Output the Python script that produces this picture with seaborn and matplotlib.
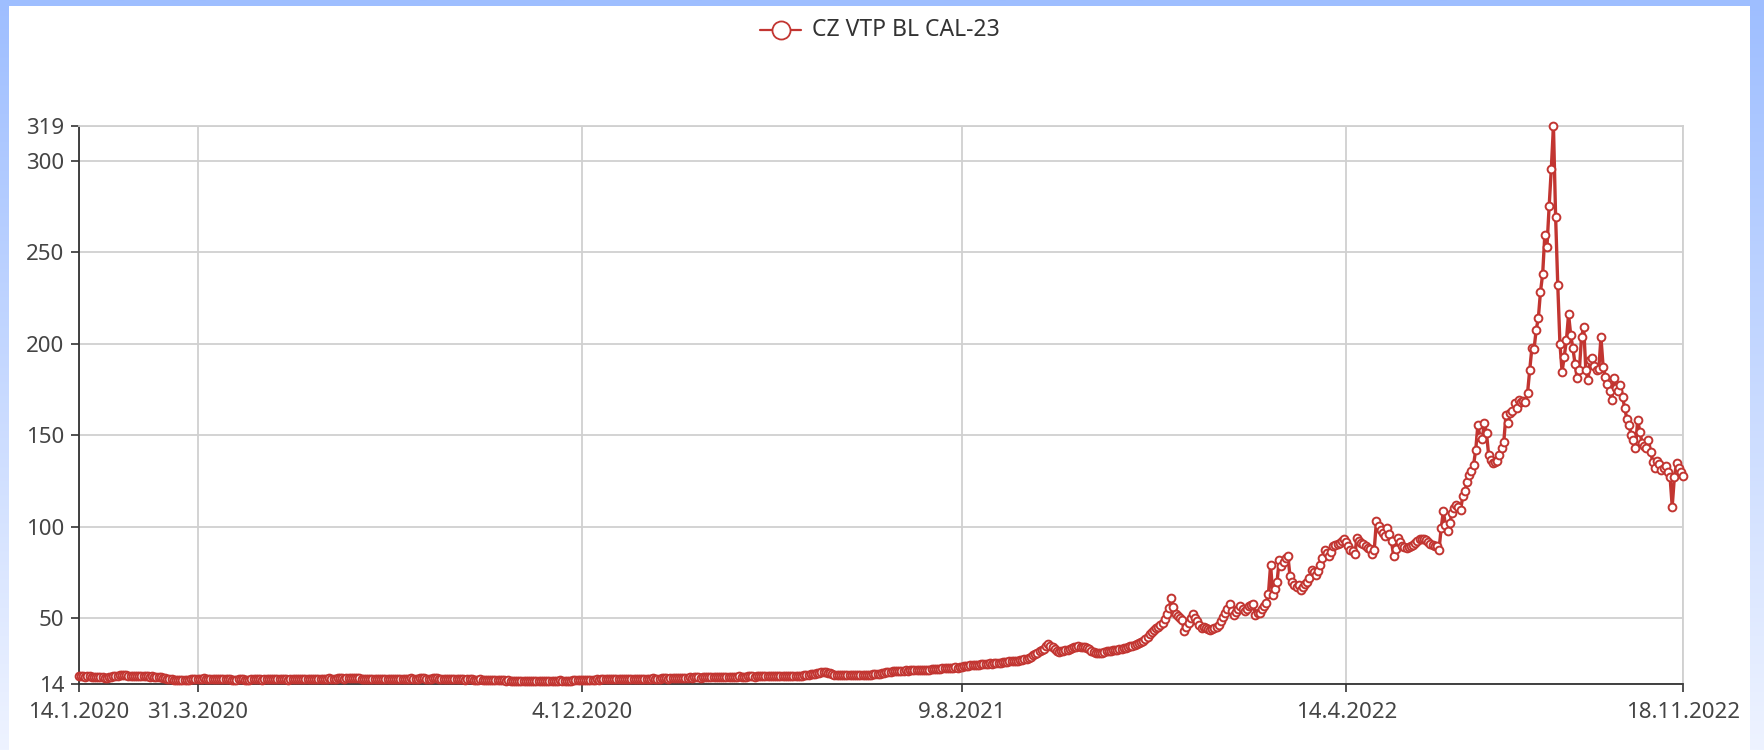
import numpy as np
import pandas as pd
import matplotlib
matplotlib.use("Agg")
import matplotlib.pyplot as plt
import seaborn as sns
from matplotlib.lines import Line2D
from matplotlib.patches import Rectangle

# ---------------- data ----------------
series_name = "CZ VTP BL CAL-23"
start_date = "2020-01-14"
end_date = "2022-11-18"
x_tick_dates = ["2020-01-14", "2020-03-31", "2020-12-04", "2021-08-09", "2022-04-14", "2022-11-18"]
x_tick_labels = ["14.1.2020", "31.3.2020", "4.12.2020", "9.8.2021", "14.4.2022", "18.11.2022"]
y_ticks = [14, 50, 100, 150, 200, 250, 300, 319]
y_min, y_max = 14, 319

# trading-day prices, Jan 2020 .. Dec 2020
prices_part1 = [
    18.3, 18.4, 18.2, 18.0, 18.1, 18.2, 17.9, 17.8, 17.7, 17.6,
    17.8, 17.6, 17.5, 17.4, 17.6, 17.9, 18.2, 18.5, 18.6, 18.7,
    18.8, 18.9, 18.8, 18.6, 18.5, 18.4, 18.5, 18.3, 18.2, 18.4,
    18.2, 18.3, 18.1, 18.0, 18.2, 18.0, 17.9, 17.8, 17.7, 17.5,
    17.2, 17.0, 16.8, 16.6, 16.4, 16.3, 16.1, 16.0, 16.2, 16.3,
    16.2, 16.4, 16.5, 16.6, 16.7, 16.8, 16.9, 17.0, 17.1, 17.0,
    17.0, 16.9, 16.8, 16.9, 16.8, 16.7, 16.6, 16.5, 16.6, 16.5,
    16.5, 16.4, 16.3, 16.4, 16.5, 16.6, 16.5, 16.4, 16.3, 16.4,
    16.5, 16.6, 16.7, 16.6, 16.5, 16.4, 16.5, 16.6, 16.7, 16.8,
    16.7, 16.6, 16.5, 16.6, 16.7, 16.6, 16.5, 16.4, 16.5, 16.6,
    16.7, 16.8, 16.9, 16.8, 16.7, 16.6, 16.5, 16.6, 16.7, 16.6,
    16.5, 16.6, 16.7, 16.8, 16.9, 17.0, 17.1, 17.0, 16.9, 17.0,
    17.1, 17.2, 17.1, 17.0, 17.1, 17.2, 17.3, 17.4, 17.3, 17.2,
    17.1, 17.0, 16.9, 16.8, 16.9, 17.0, 16.9, 16.8, 16.7, 16.8,
    16.9, 16.8, 16.7, 16.6, 16.7, 16.8, 16.9, 17.0, 16.9, 16.8,
    16.7, 16.8, 16.9, 17.0, 17.1, 17.0, 16.9, 17.0, 17.1, 17.2,
    17.1, 17.0, 16.9, 17.0, 17.1, 17.2, 17.1, 17.0, 16.9, 16.8,
    16.7, 16.8, 16.7, 16.6, 16.5, 16.6, 16.7, 16.6, 16.5, 16.4,
    16.5, 16.6, 16.5, 16.4, 16.3, 16.4, 16.5, 16.4, 16.3, 16.2,
    16.3, 16.2, 16.1, 16.2, 16.3, 16.2, 16.1, 16.0, 15.9, 16.0,
    15.9, 15.8, 15.7, 15.6, 15.7, 15.8, 15.7, 15.6, 15.5, 15.6,
    15.7, 15.8, 15.7, 15.6, 15.7, 15.8, 15.9, 15.8, 15.7, 15.6,
    15.7, 15.8, 15.9, 16.0, 15.9, 15.8, 15.7, 15.8, 15.9, 16.0,
    16.1, 16.0, 16.1, 16.2, 16.3, 16.2, 16.3, 16.4, 16.3, 16.4,
    16.5, 16.4, 16.5, 16.6, 16.5, 16.6, 16.7, 16.6, 16.5, 16.6,
]

# trading-day prices, Jan 2021 .. Dec 2021
prices_part2 = [
    16.7, 16.8, 16.7, 16.6, 16.7, 16.8, 16.9, 16.8, 16.7, 16.8,
    16.9, 17.0, 16.9, 16.8, 16.9, 17.0, 17.1, 17.0, 16.9, 17.0,
    17.1, 17.2, 17.1, 17.0, 17.1, 17.2, 17.3, 17.2, 17.3, 17.4,
    17.5, 17.4, 17.5, 17.6, 17.5, 17.6, 17.7, 17.6, 17.5, 17.6,
    17.7, 17.8, 17.7, 17.6, 17.7, 17.8, 17.9, 17.8, 17.7, 17.8,
    17.9, 18.0, 17.9, 17.8, 17.9, 18.0, 18.1, 18.0, 17.9, 18.0,
    18.1, 18.2, 18.1, 18.0, 18.1, 18.2, 18.3, 18.2, 18.1, 18.2,
    18.3, 18.2, 18.1, 18.2, 18.3, 18.4, 18.3, 18.2, 18.3, 18.4,
    18.5, 18.4, 18.3, 18.4, 18.5, 18.6, 18.7, 18.8, 19.0, 19.3,
    19.5, 19.7, 19.9, 20.1, 20.3, 20.5, 20.4, 20.2, 19.8, 19.4,
    19.0, 18.8, 18.7, 18.8, 18.9, 18.8, 18.7, 18.8, 18.9, 19.0,
    18.9, 18.8, 18.9, 19.0, 19.1, 19.0, 18.9, 19.0, 19.2, 19.4,
    19.5, 19.7, 19.9, 20.1, 20.3, 20.5, 20.7, 20.9, 21.0, 21.2,
    21.3, 21.2, 21.3, 21.4, 21.3, 21.4, 21.5, 21.4, 21.5, 21.6,
    21.7, 21.6, 21.7, 21.8, 21.9, 22.0, 22.1, 22.2, 22.3, 22.4,
    22.5, 22.6, 22.7, 22.8, 22.9, 23.0, 23.1, 23.0, 23.2, 23.4,
    23.6, 23.8, 24.0, 24.2, 24.4, 24.3, 24.5, 24.6, 24.8, 25.0,
    25.1, 25.2, 25.3, 25.2, 25.4, 25.5, 25.6, 25.7, 25.8, 26.0,
    26.1, 26.3, 26.4, 26.5, 26.6, 26.8, 27.0, 27.2, 27.4, 27.8,
    28.2, 28.8, 29.6, 30.4, 31.0, 31.8, 32.6, 33.4, 34.5, 35.6,
    35.0, 34.0, 33.0, 32.2, 31.4, 31.8, 32.2, 32.6, 32.8, 33.2,
    33.6, 34.0, 34.3, 34.6, 34.4, 34.2, 34.0, 33.6, 33.0, 32.2,
    31.6, 31.2, 31.0, 31.2, 31.0, 31.4, 31.8, 32.0, 32.2, 32.4,
    32.6, 32.8, 33.0, 33.3, 33.6, 33.8, 34.2, 34.5, 34.8, 35.2,
    35.6, 36.2, 36.8, 37.6, 38.6, 39.8, 41.2, 42.6, 43.6, 44.4,
]

# trading-day prices, Dec 2021 .. Nov 2022
prices_part3 = [
    45.2, 46.2, 47.6, 49.4, 52.0, 55.5, 61.0, 56.0, 52.0, 51.0,
    50.0, 49.0, 43.0, 45.0, 47.3, 50.0, 52.4, 50.0, 48.2, 46.4,
    44.6, 45.0, 44.6, 44.2, 43.7, 43.9, 44.5, 45.4, 46.4, 48.5,
    50.6, 52.8, 55.2, 57.9, 54.0, 51.8, 53.6, 55.0, 56.4, 55.0,
    53.7, 54.8, 56.4, 57.2, 57.9, 51.8, 52.6, 53.0, 55.0, 56.5,
    58.2, 63.3, 79.2, 62.8, 66.0, 70.0, 81.9, 78.3, 80.5, 82.9,
    84.1, 72.8, 70.0, 68.2, 67.0, 68.2, 65.5, 67.0, 68.5, 69.5,
    72.0, 76.4, 75.0, 73.7, 76.0, 79.2, 83.0, 87.4, 85.5, 83.8,
    86.0, 89.2, 90.0, 90.5, 91.0, 92.0, 93.2, 91.5, 89.2, 87.0,
    86.5, 85.2, 93.8, 92.0, 91.0, 90.3, 89.6, 88.6, 87.7, 85.0,
    87.4, 102.9, 100.5, 98.3, 96.5, 94.7, 99.2, 96.0, 91.9, 83.8,
    88.0, 93.8, 91.5, 89.2, 88.8, 88.3, 89.0, 89.6, 90.1, 91.0,
    92.0, 93.2, 93.5, 93.0, 92.8, 91.5, 90.5, 90.1, 89.5, 89.2,
    87.4, 99.2, 108.3, 101.0, 97.4, 102.0, 107.4, 110.0, 112.0, 110.5,
    109.2, 116.5, 119.3, 124.5, 128.0, 130.2, 133.8, 142.0, 155.6, 149.0,
    148.0, 156.5, 151.0, 139.0, 136.4, 134.6, 135.5, 136.0, 139.0, 143.0,
    146.4, 161.0, 156.5, 162.0, 163.0, 167.4, 165.0, 169.0, 168.0, 168.5,
    168.0, 173.0, 185.6, 197.5, 197.0, 207.5, 214.0, 228.5, 238.0, 259.5,
    253.0, 275.0, 295.5, 319.0, 269.5, 232.0, 200.0, 184.7, 193.0, 202.0,
    216.0, 204.8, 197.5, 189.0, 181.0, 185.6, 203.8, 209.0, 185.6, 180.0,
    191.0, 192.0, 188.0, 185.6, 186.0, 203.5, 187.5, 182.0, 178.0, 174.0,
    169.0, 181.0, 176.0, 174.0, 177.5, 171.0, 164.7, 159.0, 155.6, 150.0,
    147.4, 143.0, 158.3, 152.0, 146.0, 144.0, 143.0, 147.4, 141.0, 135.5,
    132.0, 136.0, 134.0, 131.0, 132.0, 133.0, 130.0, 127.3, 111.0, 127.0,
    134.6, 132.0, 130.0, 127.7,
]

# ---------------- build frame ----------------
values = prices_part1 + prices_part2 + prices_part3
dates = pd.bdate_range(start_date, end_date)
if len(dates) != len(values):
    dates = pd.bdate_range(start_date, periods=len(values))
df = pd.DataFrame({"date": dates, "idx": np.arange(len(values)), "price": values})
tick_pos = dates.get_indexer(pd.to_datetime(x_tick_dates), method="nearest")
tick_pos[-1] = len(values) - 1

# ---------------- style ----------------
sns.set_theme(style="white")
plt.rcParams["font.family"] = ["Noto Sans", "DejaVu Sans"]

W, H = 1764, 750
fig = plt.figure(figsize=(W / 100, H / 100), dpi=100)
fig.patch.set_facecolor("white")

# page background: blue frame with vertical gradient
bg = fig.add_axes([0, 0, 1, 1], zorder=-10)
bg.set_xlim(0, W)
bg.set_ylim(H, 0)
bg.axis("off")
top_c = np.array([158, 190, 255]) / 255.0
bot_c = np.array([238, 243, 255]) / 255.0
t = np.linspace(0, 1, 256)[:, None, None]
grad = top_c[None, None, :] * (1 - t) + bot_c[None, None, :] * t
bg.imshow(grad, extent=[0, W, H, 0], aspect="auto", interpolation="bilinear")
bg.add_patch(Rectangle((9, 6), 1750 - 9, H - 6, facecolor="white", edgecolor="none"))

line_color = "#c23531"
grid_color = "#d0d0d0"
axis_color = "#333333"
label_color = "#444444"

left, right, top, bottom = 78.75, 1683, 126, 684
ax = fig.add_axes([left / W, 1 - bottom / H, (right - left) / W, (bottom - top) / H])
ax.set_facecolor("none")

sns.lineplot(
    data=df, x="idx", y="price", ax=ax,
    color=line_color, linewidth=2.4,
    marker="o", markersize=5.6, markerfacecolor="white",
    markeredgecolor=line_color, markeredgewidth=1.4,
    clip_on=False, zorder=5, legend=False,
)

ax.set_xlim(0, len(values) - 1)
ax.set_ylim(y_min, y_max)
ax.set_xticks(tick_pos)
ax.set_xticklabels(x_tick_labels)
ax.set_yticks(y_ticks)
ax.set_yticklabels([str(v) for v in y_ticks])
ax.set_xlabel("")
ax.set_ylabel("")

ax.grid(True, axis="both", color=grid_color, linewidth=1.3)
ax.set_axisbelow(True)

for s in ["top", "right"]:
    ax.spines[s].set_color(grid_color)
    ax.spines[s].set_linewidth(1.3)
for s in ["left", "bottom"]:
    ax.spines[s].set_color(axis_color)
    ax.spines[s].set_linewidth(1.3)

ax.tick_params(axis="both", which="major", direction="out", length=5.5, width=1.2,
               color=axis_color, labelcolor=label_color, labelsize=16)
ax.tick_params(axis="x", pad=7.5, bottom=True)
ax.tick_params(axis="y", pad=5.0, left=True)

# legend (top centre)
leg_y = 1 - 30 / H
fig.add_artist(Line2D([760 / W, 801 / W], [leg_y, leg_y], transform=fig.transFigure,
                      color=line_color, linewidth=1.6))
fig.add_artist(Line2D([780.5 / W], [leg_y], transform=fig.transFigure, marker="o",
                      markersize=13, markerfacecolor="white", markeredgecolor=line_color,
                      markeredgewidth=1.3, linestyle="none"))
fig.text(812 / W, leg_y, series_name, ha="left", va="center", fontsize=16.5, color="#333333")

fig.savefig("out.png", dpi=100, facecolor=fig.get_facecolor())
